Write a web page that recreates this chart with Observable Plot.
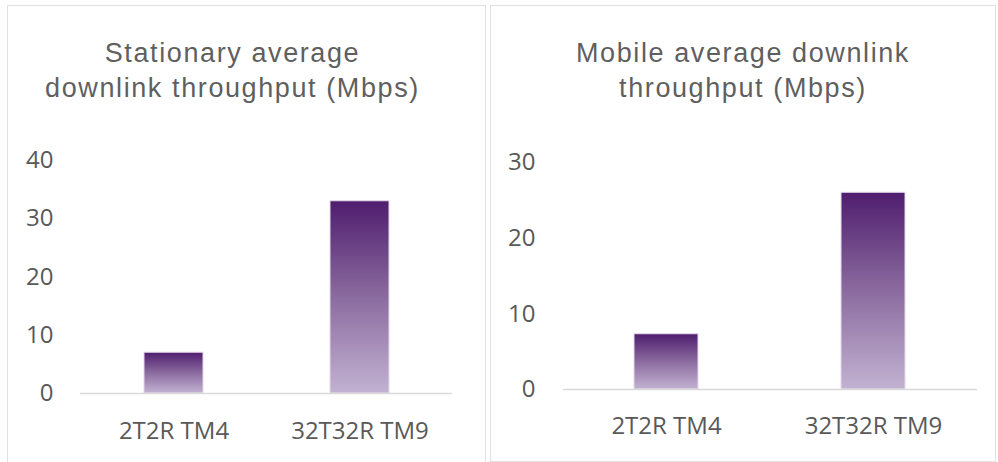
<!DOCTYPE html>
<html>
<head>
<meta charset="utf-8">
<script src="https://cdn.jsdelivr.net/npm/d3@7"></script>
<script src="https://cdn.jsdelivr.net/npm/@observablehq/plot@0.6"></script>
<style>
  html, body { margin: 0; padding: 0; background: #fff; width: 998px; height: 462px; overflow: hidden; }
  .panel { position: absolute; border: 1px solid #e2e2e2; box-sizing: border-box; background: #fff; }
  .title { position: absolute; text-align: center; font-family: "Liberation Sans", Arial, sans-serif; font-size: 27px; letter-spacing: 1.6px; line-height: 35px; color: #5f5f5f; white-space: nowrap; }
  .chart { position: absolute; }
</style>
</head>
<body>
<div class="panel" style="left:7px; top:5px; width:479px; height:470px;"></div>
<div class="panel" style="left:490px; top:5px; width:506px; height:457px;"></div>
<div class="title" id="t1" style="left:0px; top:36px; width:465px;"></div>
<div class="title" id="t2" style="left:491px; top:36px; width:504px;"></div>
<div class="chart" id="c1" style="left:0px; top:130px;"></div>
<div class="chart" id="c2" style="left:491px; top:130px;"></div>
<script>
const categories = ["2T2R TM4", "32T32R TM9"];
const stationaryValues = [7, 33];
const mobileValues = [7.3, 26];
const stationaryTicks = [0, 10, 20, 30, 40];
const mobileTicks = [0, 10, 20, 30];
const stationaryTitle = ["Stationary average", "downlink throughput (Mbps)"];
const mobileTitle = ["Mobile average downlink", "throughput (Mbps)"];

function setTitle(id, lines) {
  const el = document.getElementById(id);
  lines.forEach((l, i) => {
    if (i) el.appendChild(document.createElement("br"));
    el.appendChild(document.createTextNode(l));
  });
}
setTitle("t1", stationaryTitle);
setTitle("t2", mobileTitle);

function gradientDefs(id) {
  return () => {
    const defs = d3.create("svg:defs");
    const g = defs.append("linearGradient").attr("id", id)
      .attr("x1", 0).attr("y1", 0).attr("x2", 0).attr("y2", 1);
    g.append("stop").attr("offset", "0%").attr("stop-color", "#4f1d6e");
    g.append("stop").attr("offset", "50%").attr("stop-color", "#8b6b9f");
    g.append("stop").attr("offset", "100%").attr("stop-color", "#c2b2d2");
    return defs.node();
  };
}

function makeChart(values, ticks, cfg) {
  const data = categories.map((c, i) => ({category: c, value: values[i]}));
  return Plot.plot({
    width: cfg.width,
    height: 332,
    marginLeft: cfg.marginLeft,
    marginRight: cfg.marginRight,
    marginTop: cfg.marginTop,
    marginBottom: cfg.marginBottom,
    style: {fontFamily: "'Open Sans', sans-serif", fontSize: "24px", color: "#595959", background: "transparent", overflow: "visible"},
    x: {domain: categories, paddingInner: cfg.pad, paddingOuter: cfg.pad / 2, label: null},
    y: {domain: [0, ticks[ticks.length - 1]], label: null},
    marks: [
      gradientDefs(cfg.gid),
      Plot.barY(data, {x: "category", y: "value", fill: `url(#${cfg.gid})`, stroke: "#e4daea", strokeWidth: 1}),
      Plot.ruleY([0], {stroke: "#d9d9d9", strokeWidth: 1.5}),
      Plot.axisY({ticks: ticks, tickSize: 0, tickPadding: cfg.yPad, tickFormat: d3.format("d"), label: null, fill: "#595959"}),
      Plot.axisX({tickSize: 0, tickPadding: cfg.xPad, label: null, fill: "#595959"})
    ]
  });
}

document.getElementById("c1").appendChild(makeChart(stationaryValues, stationaryTicks, {
  width: 490, marginLeft: 80, marginRight: 38, marginTop: 30, marginBottom: 69,
  pad: 0.683, yPad: 27, xPad: 28, gid: "gradA"
}));
document.getElementById("c2").appendChild(makeChart(mobileValues, mobileTicks, {
  width: 507, marginLeft: 72, marginRight: 21, marginTop: 32, marginBottom: 73,
  pad: 0.69, yPad: 28, xPad: 27, gid: "gradB"
}));
</script>
</body>
</html>
